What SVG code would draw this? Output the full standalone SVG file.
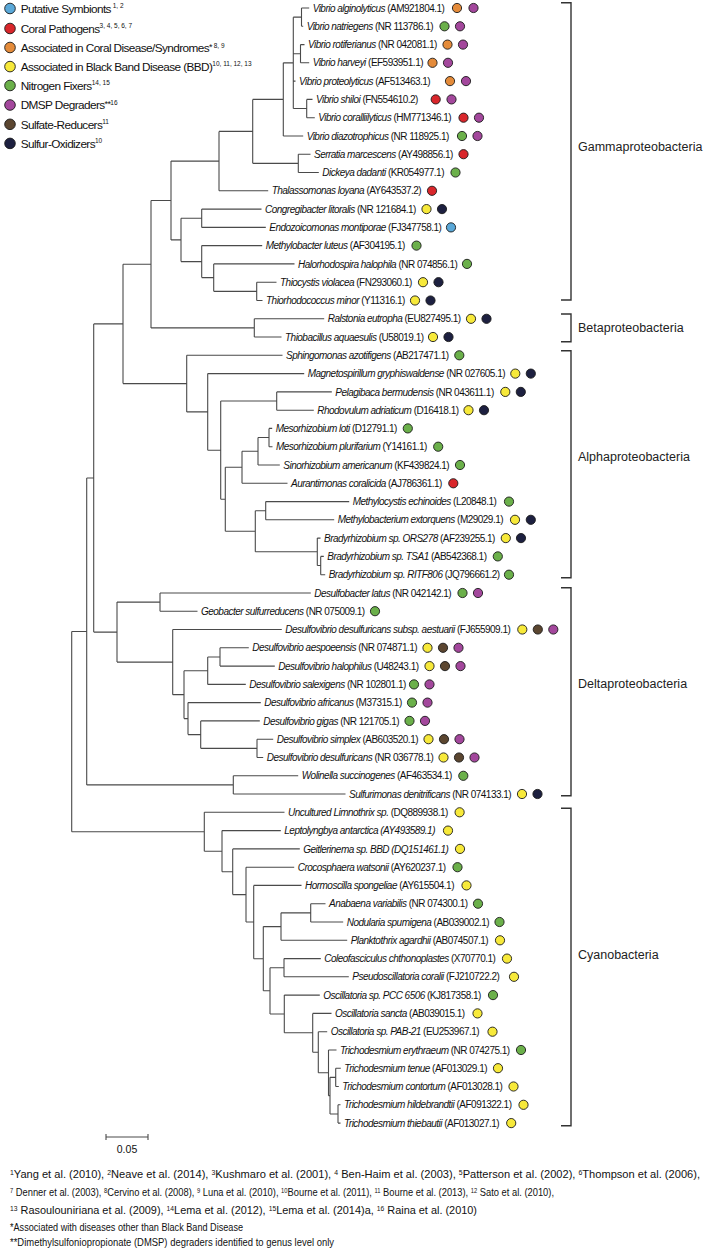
<svg xmlns="http://www.w3.org/2000/svg" width="707" height="1250" viewBox="0 0 707 1250">
<style>
.lf{font-family:"Liberation Sans",Arial,sans-serif;font-size:10px;letter-spacing:-0.52px;fill:#111}
.i{font-style:italic}
.lg{font-family:"Liberation Sans",Arial,sans-serif;font-size:11.8px;letter-spacing:-0.6px;fill:#111}
.sup{font-size:6.5px;letter-spacing:0}
.cl{font-family:"Liberation Sans",Arial,sans-serif;font-size:12.5px;fill:#222}
.fn{font-family:"Liberation Sans",Arial,sans-serif;font-size:10.5px;fill:#111}
.tree{fill:none;stroke:#4a4a4a;stroke-width:1.1}
.br{fill:none;stroke:#333;stroke-width:1.4}
circle{stroke:#1a1a1a;stroke-width:0.9}
.cb{fill:#5aa8d8}.cr{fill:#d9262b}.co{fill:#e48b3a}.cy{fill:#f7e93a}.cg{fill:#6bb04a}.cp{fill:#a3479c}.cw{fill:#5b4630}.cn{fill:#1d2040}
</style>
<rect width="707" height="1250" fill="#fff"/>
<g id="legend">
<g id="lg1"><circle class="cb" cx="10" cy="8.5" r="5.3"/><text class="lg" x="20.7" y="12.7">Putative Symbionts<tspan class="sup" dy="-4.5"> 1, 2</tspan></text></g>
<g id="lg2"><circle class="cr" cx="10" cy="28.5" r="5.3"/><text class="lg" x="20.7" y="32.7">Coral Pathogens<tspan class="sup" dy="-4.5">3, 4, 5, 6, 7</tspan></text></g>
<g id="lg3"><circle class="co" cx="10" cy="47.5" r="5.3"/><text class="lg" x="20.7" y="51.7">Associated in Coral Disease/Syndromes<tspan dy="-2" font-size="9">*</tspan><tspan class="sup" dy="-2"> 8, 9</tspan></text></g>
<g id="lg4"><circle class="cy" cx="10" cy="66.6" r="5.3"/><text class="lg" x="20.7" y="70.8">Associated in Black Band Disease (BBD)<tspan class="sup" dy="-4.5">10, 11, 12, 13</tspan></text></g>
<g id="lg5"><circle class="cg" cx="10" cy="85.5" r="5.3"/><text class="lg" x="20.7" y="89.7">Nitrogen Fixers<tspan class="sup" dy="-4.5">14, 15</tspan></text></g>
<g id="lg6"><circle class="cp" cx="10" cy="105" r="5.3"/><text class="lg" x="20.7" y="109.2">DMSP Degraders<tspan dy="-2" font-size="9">**</tspan><tspan class="sup" dy="-2">16</tspan></text></g>
<g id="lg7"><circle class="cw" cx="10" cy="124.3" r="5.3"/><text class="lg" x="20.7" y="128.5">Sulfate-Reducers<tspan class="sup" dy="-4.5">11</tspan></text></g>
<g id="lg8"><circle class="cn" cx="10" cy="143.4" r="5.3"/><text class="lg" x="20.7" y="147.6">Sulfur-Oxidizers<tspan class="sup" dy="-4.5">10</tspan></text></g>
</g>
<g id="connectors" class="tree">
<path d="M301.5,8V26.3M301.5,8H309.2M301.5,26.3H303.2
M300.5,44.6V62.8M300.5,44.6H304.5M300.5,62.8H309.2
M306.7,99.4V117.7M306.7,99.4H312.5M306.7,117.7H314.8
M293.3,17.15V108.55M293.3,17.15H301.5M293.3,53.7H300.5M293.3,81.1H295.5M293.3,108.55H306.7
M283.3,62.85V136M283.3,62.85H293.3M283.3,136H303.2
M298.3,154.2V172.5M298.3,154.2H310.5M298.3,172.5H318.8
M252.7,99.4V163.35M252.7,99.4H283.3M252.7,163.35H298.3
M219,131.4V190.8M219,131.4H252.7M219,190.8H268.2
M201.7,209.1V227.4M201.7,209.1H261.5M201.7,227.4H265.8
M256.7,282.2V300.5M256.7,282.2H276.5M256.7,300.5H262.5
M213.7,263.9V291.35M213.7,263.9H294.5M213.7,291.35H256.7
M201.7,245.6V277.6M201.7,245.6H262.2M201.7,277.6H213.7
M181,218.25V261.6M181,218.25H201.7M181,261.6H201.7
M171,161.1V239.9M171,161.1H219M171,239.9H181
M254.3,318.8V337M254.3,318.8H324.2M254.3,337H281.5
M151,200.5V327.9M151,200.5H171M151,327.9H254.3
M269,428.4V446.7M269,428.4H272.2M269,446.7H272.5
M258,437.55V465M258,437.55H269M258,465H279.8
M242,451.3V483.3M242,451.3H258M242,483.3H287.5
M265.7,501.6V519.8M265.7,501.6H349.2M265.7,519.8H334.2
M320.7,556.4V574.7M320.7,556.4H323.8M320.7,574.7H325.2
M317.3,538.1V565.55M317.3,538.1H320.5M317.3,565.55H320.7
M255.3,510.7V551.8M255.3,510.7H265.7M255.3,551.8H317.3
M225.3,467.3V531.25M225.3,467.3H242M225.3,531.25H255.3
M276.7,391.9V410.2M276.7,391.9H331.8M276.7,410.2H313.8
M220.7,401.05V499.3M220.7,401.05H276.7M220.7,499.3H225.3
M207.7,373.6V450.2M207.7,373.6H304.2M207.7,450.2H220.7
M186.7,355.3V411.9M186.7,355.3H282.5M186.7,411.9H207.7
M123,264.2V383.6M123,264.2H151M123,383.6H186.7
M160,593V611.2M160,593H310.8M160,611.2H197.5
M220,647.8V666.1M220,647.8H248.8M220,666.1H274.8
M207.7,656.95V684.4M207.7,656.95H220M207.7,684.4H245.8
M257,739.2V757.5M257,739.2H273.2M257,757.5H263.2
M200.7,720.9V748.35M200.7,720.9H259.8M200.7,748.35H257
M188,702.6V734.6M188,702.6H260.8M188,734.6H200.7
M184,670.7V718.6M184,670.7H207.7M184,718.6H188
M172.7,629.5V694.65M172.7,629.5H281.8M172.7,694.65H184
M117,602.1V662.1M117,602.1H160M117,662.1H172.7
M93.7,323.9V632.1M93.7,323.9H123M93.7,632.1H117
M233.3,775.8V794M233.3,775.8H298.2M233.3,794H345.5
M86.7,478V784.9M86.7,478H93.7M86.7,784.9H233.3
M310.7,903.7V922M310.7,903.7H325.5M310.7,922H343.2
M281,912.85V940.3M281,912.85H310.7M281,940.3H347.2
M284,958.6V976.8M284,958.6H320.8M284,976.8H348.8
M335.7,1068.2V1086.5M335.7,1068.2H340.8M335.7,1086.5H338.8
M338,1104.8V1123.1M338,1104.8H340.5M338,1123.1H340.5
M330,1077.35V1113.95M330,1077.35H335.7M330,1113.95H338
M328.5,1050V1095.65M328.5,1050H336.5M328.5,1095.65H330
M318.3,1031.7V1072.8M318.3,1031.7H327.2M318.3,1072.8H328.5
M312.7,1013.4V1052.25M312.7,1013.4H331.5M312.7,1052.25H318.3
M284.3,995.1V1032.8M284.3,995.1H319.8M284.3,1032.8H312.7
M270,967.7V1013.95M270,967.7H284M270,1013.95H284.3
M263.3,926.6V990.8M263.3,926.6H281M263.3,990.8H270
M253.7,885.4V958.7M253.7,885.4H301.5M253.7,958.7H263.3
M246,867.2V922.05M246,867.2H294.2M246,922.05H253.7
M232.7,848.9V894.6M232.7,848.9H299.8M232.7,894.6H246
M222,830.6V871.75M222,830.6H280.8M222,871.75H232.7
M204.3,812.3V851.2M204.3,812.3H284.5M204.3,851.2H222
M71.7,631.45V831.75M71.7,631.45H86.7M71.7,831.75H204.3"/>
</g>
<g id="leaves">
<g id="leaf01"><text class="lf" x="312.7" y="11.6"><tspan class="i">Vibrio alginolyticus</tspan> (AM921804.1)</text><circle class="co" cx="457" cy="8" r="4.6"/><circle class="cp" cx="473.5" cy="8" r="4.6"/></g>
<g id="leaf02"><text class="lf" x="306.7" y="29.9"><tspan class="i">Vibrio natriegens</tspan> (NR 113786.1)</text><circle class="cg" cx="444.5" cy="26.3" r="4.6"/><circle class="cp" cx="460" cy="26.3" r="4.6"/></g>
<g id="leaf03"><text class="lf" x="308" y="48.2"><tspan class="i">Vibrio rotiferianus</tspan> (NR 042081.1)</text><circle class="co" cx="447.5" cy="44.6" r="4.6"/><circle class="cp" cx="463" cy="44.6" r="4.6"/></g>
<g id="leaf04"><text class="lf" x="312.7" y="66.4"><tspan class="i">Vibrio harveyi</tspan> (EF593951.1)</text><circle class="co" cx="432.5" cy="62.8" r="4.6"/><circle class="cp" cx="448" cy="62.8" r="4.6"/></g>
<g id="leaf05"><text class="lf" x="299" y="84.7"><tspan class="i">Vibrio proteolyticus</tspan> (AF513463.1)</text><circle class="co" cx="450" cy="81.1" r="4.6"/><circle class="cp" cx="466" cy="81.1" r="4.6"/></g>
<g id="leaf06"><text class="lf" x="316" y="103"><tspan class="i">Vibrio shiloi</tspan> (FN554610.2)</text><circle class="cr" cx="435.7" cy="99.4" r="4.6"/><circle class="cp" cx="451.5" cy="99.4" r="4.6"/></g>
<g id="leaf07"><text class="lf" x="318.3" y="121.3"><tspan class="i">Vibrio coralliilyticus</tspan> (HM771346.1)</text><circle class="cr" cx="463.5" cy="117.7" r="4.6"/><circle class="cp" cx="479" cy="117.7" r="4.6"/></g>
<g id="leaf08"><text class="lf" x="306.7" y="139.6"><tspan class="i">Vibrio diazotrophicus</tspan> (NR 118925.1)</text><circle class="cg" cx="462" cy="136" r="4.6"/><circle class="cp" cx="477.5" cy="136" r="4.6"/></g>
<g id="leaf09"><text class="lf" x="314" y="157.8"><tspan class="i">Serratia marcescens</tspan> (AY498856.1)</text><circle class="cr" cx="463.5" cy="154.2" r="4.6"/></g>
<g id="leaf10"><text class="lf" x="322.3" y="176.1"><tspan class="i">Dickeya dadanti</tspan> (KR054977.1)</text><circle class="cg" cx="455.5" cy="172.5" r="4.6"/></g>
<g id="leaf11"><text class="lf" x="271.7" y="194.4"><tspan class="i">Thalassomonas loyana</tspan> (AY643537.2)</text><circle class="cr" cx="432" cy="190.8" r="4.6"/></g>
<g id="leaf12"><text class="lf" x="265" y="212.7"><tspan class="i">Congregibacter litoralis</tspan> (NR 121684.1)</text><circle class="cy" cx="426.5" cy="209.1" r="4.6"/><circle class="cn" cx="442" cy="209.1" r="4.6"/></g>
<g id="leaf13"><text class="lf" x="269.3" y="231"><tspan class="i">Endozoicomonas montiporae</tspan> (FJ347758.1)</text><circle class="cb" cx="451" cy="227.4" r="4.6"/></g>
<g id="leaf14"><text class="lf" x="265.7" y="249.2"><tspan class="i">Methylobacter luteus</tspan> (AF304195.1)</text><circle class="cg" cx="416.5" cy="245.6" r="4.6"/></g>
<g id="leaf15"><text class="lf" x="298" y="267.5"><tspan class="i">Halorhodospira halophila</tspan> (NR 074856.1)</text><circle class="cg" cx="467" cy="263.9" r="4.6"/></g>
<g id="leaf16"><text class="lf" x="280" y="285.8"><tspan class="i">Thiocystis violacea</tspan> (FN293060.1)</text><circle class="cy" cx="423" cy="282.2" r="4.6"/><circle class="cn" cx="438.5" cy="282.2" r="4.6"/></g>
<g id="leaf17"><text class="lf" x="266" y="304.1"><tspan class="i">Thiorhodococcus minor</tspan> (Y11316.1)</text><circle class="cy" cx="415" cy="300.5" r="4.6"/><circle class="cn" cx="430.5" cy="300.5" r="4.6"/></g>
<g id="leaf18"><text class="lf" x="327.7" y="322.4"><tspan class="i">Ralstonia eutropha</tspan> (EU827495.1)</text><circle class="cy" cx="471" cy="318.8" r="4.6"/><circle class="cn" cx="486.5" cy="318.8" r="4.6"/></g>
<g id="leaf19"><text class="lf" x="285" y="340.6"><tspan class="i">Thiobacillus aquaesulis</tspan> (U58019.1)</text><circle class="cy" cx="433" cy="337" r="4.6"/><circle class="cn" cx="448.5" cy="337" r="4.6"/></g>
<g id="leaf20"><text class="lf" x="286" y="358.9"><tspan class="i">Sphingomonas azotifigens</tspan> (AB217471.1)</text><circle class="cg" cx="459.3" cy="355.3" r="4.6"/></g>
<g id="leaf21"><text class="lf" x="307.7" y="377.2"><tspan class="i">Magnetospirillum gryphiswaldense</tspan> (NR 027605.1)</text><circle class="cy" cx="515.3" cy="373.6" r="4.6"/><circle class="cn" cx="530.8" cy="373.6" r="4.6"/></g>
<g id="leaf22"><text class="lf" x="335.3" y="395.5"><tspan class="i">Pelagibaca bermudensis</tspan> (NR 043611.1)</text><circle class="cy" cx="505.3" cy="391.9" r="4.6"/><circle class="cn" cx="520.8" cy="391.9" r="4.6"/></g>
<g id="leaf23"><text class="lf" x="317.3" y="413.8"><tspan class="i">Rhodovulum adriaticum</tspan> (D16418.1)</text><circle class="cy" cx="468.5" cy="410.2" r="4.6"/><circle class="cn" cx="484" cy="410.2" r="4.6"/></g>
<g id="leaf24"><text class="lf" x="275.7" y="432"><tspan class="i">Mesorhizobium loti</tspan> (D12791.1)</text><circle class="cg" cx="407.8" cy="428.4" r="4.6"/></g>
<g id="leaf25"><text class="lf" x="276" y="450.3"><tspan class="i">Mesorhizobium plurifarium</tspan> (Y14161.1)</text><circle class="cg" cx="438.2" cy="446.7" r="4.6"/></g>
<g id="leaf26"><text class="lf" x="283.3" y="468.6"><tspan class="i">Sinorhizobium americanum</tspan> (KF439824.1)</text><circle class="cg" cx="460" cy="465" r="4.6"/></g>
<g id="leaf27"><text class="lf" x="291" y="486.9"><tspan class="i">Aurantimonas coralicida</tspan> (AJ786361.1)</text><circle class="cr" cx="453.3" cy="483.3" r="4.6"/></g>
<g id="leaf28"><text class="lf" x="352.7" y="505.2"><tspan class="i">Methylocystis echinoides</tspan> (L20848.1)</text><circle class="cg" cx="509" cy="501.6" r="4.6"/></g>
<g id="leaf29"><text class="lf" x="337.7" y="523.4"><tspan class="i">Methylobacterium extorquens</tspan> (M29029.1)</text><circle class="cy" cx="515" cy="519.8" r="4.6"/><circle class="cn" cx="530.8" cy="519.8" r="4.6"/></g>
<g id="leaf30"><text class="lf" x="324" y="541.7"><tspan class="i">Bradyrhizobium sp. ORS278</tspan> (AF239255.1)</text><circle class="cy" cx="505.8" cy="538.1" r="4.6"/><circle class="cn" cx="521" cy="538.1" r="4.6"/></g>
<g id="leaf31"><text class="lf" x="327.3" y="560"><tspan class="i">Bradyrhizobium sp. TSA1</tspan> (AB542368.1)</text><circle class="cg" cx="497.8" cy="556.4" r="4.6"/></g>
<g id="leaf32"><text class="lf" x="328.7" y="578.3"><tspan class="i">Bradyrhizobium sp. RITF806</tspan> (JQ796661.2)</text><circle class="cg" cx="509" cy="574.7" r="4.6"/></g>
<g id="leaf33"><text class="lf" x="314.3" y="596.6"><tspan class="i">Desulfobacter latus</tspan> (NR 042142.1)</text><circle class="cg" cx="462.5" cy="593" r="4.6"/><circle class="cp" cx="478" cy="593" r="4.6"/></g>
<g id="leaf34"><text class="lf" x="201" y="614.8"><tspan class="i">Geobacter sulfurreducens</tspan> (NR 075009.1)</text><circle class="cg" cx="375" cy="611.2" r="4.6"/></g>
<g id="leaf35"><text class="lf" x="285.3" y="633.1"><tspan class="i">Desulfovibrio desulfuricans subsp. aestuarii</tspan> (FJ655909.1)</text><circle class="cy" cx="522.3" cy="629.5" r="4.6"/><circle class="cw" cx="537.8" cy="629.5" r="4.6"/><circle class="cp" cx="553.3" cy="629.5" r="4.6"/></g>
<g id="leaf36"><text class="lf" x="252.3" y="651.4"><tspan class="i">Desulfovibrio aespoeensis</tspan> (NR 074871.1)</text><circle class="cy" cx="427.5" cy="647.8" r="4.6"/><circle class="cw" cx="443" cy="647.8" r="4.6"/><circle class="cp" cx="458.5" cy="647.8" r="4.6"/></g>
<g id="leaf37"><text class="lf" x="278.3" y="669.7"><tspan class="i">Desulfovibrio halophilus</tspan> (U48243.1)</text><circle class="cy" cx="429.5" cy="666.1" r="4.6"/><circle class="cw" cx="445" cy="666.1" r="4.6"/><circle class="cp" cx="460.5" cy="666.1" r="4.6"/></g>
<g id="leaf38"><text class="lf" x="249.3" y="688"><tspan class="i">Desulfovibrio salexigens</tspan> (NR 102801.1)</text><circle class="cg" cx="414" cy="684.4" r="4.6"/><circle class="cp" cx="429.5" cy="684.4" r="4.6"/></g>
<g id="leaf39"><text class="lf" x="264.3" y="706.2"><tspan class="i">Desulfovibrio africanus</tspan> (M37315.1)</text><circle class="cg" cx="412" cy="702.6" r="4.6"/><circle class="cp" cx="427.5" cy="702.6" r="4.6"/></g>
<g id="leaf40"><text class="lf" x="263.3" y="724.5"><tspan class="i">Desulfovibrio gigas</tspan> (NR 121705.1)</text><circle class="cg" cx="409.5" cy="720.9" r="4.6"/><circle class="cp" cx="425" cy="720.9" r="4.6"/></g>
<g id="leaf41"><text class="lf" x="276.7" y="742.8"><tspan class="i">Desulfovibrio simplex</tspan> (AB603520.1)</text><circle class="cy" cx="428.5" cy="739.2" r="4.6"/><circle class="cw" cx="444" cy="739.2" r="4.6"/><circle class="cp" cx="459.5" cy="739.2" r="4.6"/></g>
<g id="leaf42"><text class="lf" x="266.7" y="761.1"><tspan class="i">Desulfovibrio desulfuricans</tspan> (NR 036778.1)</text><circle class="cy" cx="443.5" cy="757.5" r="4.6"/><circle class="cw" cx="459" cy="757.5" r="4.6"/><circle class="cp" cx="474.5" cy="757.5" r="4.6"/></g>
<g id="leaf43"><text class="lf" x="301.7" y="779.4"><tspan class="i">Wolinella succinogenes</tspan> (AF463534.1)</text><circle class="cg" cx="463.3" cy="775.8" r="4.6"/></g>
<g id="leaf44"><text class="lf" x="349" y="797.6"><tspan class="i">Sulfurimonas denitrificans</tspan> (NR 074133.1)</text><circle class="cy" cx="522" cy="794" r="4.6"/><circle class="cn" cx="537.5" cy="794" r="4.6"/></g>
<g id="leaf45"><text class="lf" x="288" y="815.9"><tspan class="i">Uncultured Limnothrix sp.</tspan> (DQ889938.1)</text><circle class="cy" cx="459.6" cy="812.3" r="4.6"/></g>
<g id="leaf46"><text class="lf i" x="284.3" y="834.2">Leptolyngbya antarctica (AY493589.1)</text><circle class="cy" cx="448" cy="830.6" r="4.6"/></g>
<g id="leaf47"><text class="lf i" x="303.3" y="852.5">Geitlerinema sp. BBD (DQ151461.1)</text><circle class="cy" cx="460" cy="848.9" r="4.6"/></g>
<g id="leaf48"><text class="lf" x="297.7" y="870.8"><tspan class="i">Crocosphaera watsonii</tspan> (AY620237.1)</text><circle class="cg" cx="457.5" cy="867.2" r="4.6"/></g>
<g id="leaf49"><text class="lf" x="305" y="889"><tspan class="i">Hormoscilla spongeliae</tspan> (AY615504.1)</text><circle class="cy" cx="466.5" cy="885.4" r="4.6"/></g>
<g id="leaf50"><text class="lf" x="329" y="907.3"><tspan class="i">Anabaena variabilis</tspan> (NR 074300.1)</text><circle class="cg" cx="478" cy="903.7" r="4.6"/></g>
<g id="leaf51"><text class="lf" x="346.7" y="925.6"><tspan class="i">Nodularia spumigena</tspan> (AB039002.1)</text><circle class="cg" cx="499.5" cy="922" r="4.6"/></g>
<g id="leaf52"><text class="lf" x="350.7" y="943.9"><tspan class="i">Planktothrix agardhii</tspan> (AB074507.1)</text><circle class="cy" cx="500" cy="940.3" r="4.6"/></g>
<g id="leaf53"><text class="lf" x="324.3" y="962.2"><tspan class="i">Coleofasciculus chthonoplastes</tspan> (X70770.1)</text><circle class="cy" cx="507" cy="958.6" r="4.6"/></g>
<g id="leaf54"><text class="lf" x="352.3" y="980.4"><tspan class="i">Pseudoscillatoria coralii</tspan> (FJ210722.2)</text><circle class="cy" cx="514" cy="976.8" r="4.6"/></g>
<g id="leaf55"><text class="lf" x="323.3" y="998.7"><tspan class="i">Oscillatoria sp. PCC 6506</tspan> (KJ817358.1)</text><circle class="cg" cx="493" cy="995.1" r="4.6"/></g>
<g id="leaf56"><text class="lf" x="335" y="1017"><tspan class="i">Oscillatoria sancta</tspan> (AB039015.1)</text><circle class="cy" cx="477.5" cy="1013.4" r="4.6"/></g>
<g id="leaf57"><text class="lf" x="330.7" y="1035.3"><tspan class="i">Oscillatoria sp. PAB-21</tspan> (EU253967.1)</text><circle class="cy" cx="492.5" cy="1031.7" r="4.6"/></g>
<g id="leaf58"><text class="lf" x="340" y="1053.6"><tspan class="i">Trichodesmium erythraeum</tspan> (NR 074275.1)</text><circle class="cg" cx="521" cy="1050" r="4.6"/></g>
<g id="leaf59"><text class="lf" x="344.3" y="1071.8"><tspan class="i">Trichodesmium tenue</tspan> (AF013029.1)</text><circle class="cy" cx="498" cy="1068.2" r="4.6"/></g>
<g id="leaf60"><text class="lf" x="342.3" y="1090.1"><tspan class="i">Trichodesmium contortum</tspan> (AF013028.1)</text><circle class="cy" cx="513.5" cy="1086.5" r="4.6"/></g>
<g id="leaf61"><text class="lf" x="344" y="1108.4"><tspan class="i">Trichodesmium hildebrandtii</tspan> (AF091322.1)</text><circle class="cy" cx="523.5" cy="1104.8" r="4.6"/></g>
<g id="leaf62"><text class="lf" x="344" y="1126.7"><tspan class="i">Trichodesmium thiebautii</tspan> (AF013027.1)</text><circle class="cy" cx="511.2" cy="1123.1" r="4.6"/></g>
</g>
<g id="clades">
<g id="gamma"><path class="br" d="M561,2.7H571V300H561"/><text class="cl" x="578" y="150.5">Gammaproteobacteria</text></g>
<g id="beta"><path class="br" d="M561,314H571V341.7H561"/><text class="cl" x="578" y="331.8">Betaproteobacteria</text></g>
<g id="alpha"><path class="br" d="M561,350.7H571V577.7H561"/><text class="cl" x="578" y="460.5">Alphaproteobacteria</text></g>
<g id="delta"><path class="br" d="M561,587.7H571V795.7H561"/><text class="cl" x="578" y="687.8">Deltaproteobacteria</text></g>
<g id="cyano"><path class="br" d="M561,808.3H571V1125.7H561"/><text class="cl" x="578" y="958.5">Cyanobacteria</text></g>
</g>
<g id="scalebar"><path class="tree" d="M106,1137H148M106,1134V1140M148,1134V1140"/><text class="fn" x="127" y="1153" font-size="8.5" text-anchor="middle">0.05</text></g>
<g id="footnotes">
<text class="fn" x="10" y="1178" textLength="690" lengthAdjust="spacingAndGlyphs"><tspan class="sup" baseline-shift="3.5">1</tspan>Yang et al. (2010), <tspan class="sup" baseline-shift="3.5">2</tspan>Neave et al. (2014), <tspan class="sup" baseline-shift="3.5">3</tspan>Kushmaro et al. (2001), <tspan class="sup" baseline-shift="3.5">4</tspan> Ben-Haim et al. (2003), <tspan class="sup" baseline-shift="3.5">5</tspan>Patterson et al. (2002), <tspan class="sup" baseline-shift="3.5">6</tspan>Thompson et al. (2006),</text>
<text class="fn" x="10" y="1196" textLength="544" lengthAdjust="spacingAndGlyphs"><tspan class="sup" baseline-shift="3.5">7</tspan> Denner et al. (2003), <tspan class="sup" baseline-shift="3.5">8</tspan>Cervino et al. (2008), <tspan class="sup" baseline-shift="3.5">9</tspan> Luna et al. (2010), <tspan class="sup" baseline-shift="3.5">10</tspan>Bourne et al. (2011), <tspan class="sup" baseline-shift="3.5">11</tspan> Bourne et al. (2013), <tspan class="sup" baseline-shift="3.5">12</tspan> Sato et al. (2010),</text>
<text class="fn" x="10" y="1213.5" textLength="467" lengthAdjust="spacingAndGlyphs"><tspan class="sup" baseline-shift="3.5">13</tspan> Rasoulouniriana et al. (2009), <tspan class="sup" baseline-shift="3.5">14</tspan>Lema et al. (2012), <tspan class="sup" baseline-shift="3.5">15</tspan>Lema et al. (2014)a, <tspan class="sup" baseline-shift="3.5">16</tspan> Raina et al. (2010)</text>
<text class="fn" x="10" y="1230.5" textLength="233" lengthAdjust="spacingAndGlyphs">*Associated with diseases other than Black Band Disease</text>
<text class="fn" x="10" y="1246" textLength="324" lengthAdjust="spacingAndGlyphs">**Dimethylsulfoniopropionate (DMSP) degraders identified to genus level only</text>
</g>
</svg>
